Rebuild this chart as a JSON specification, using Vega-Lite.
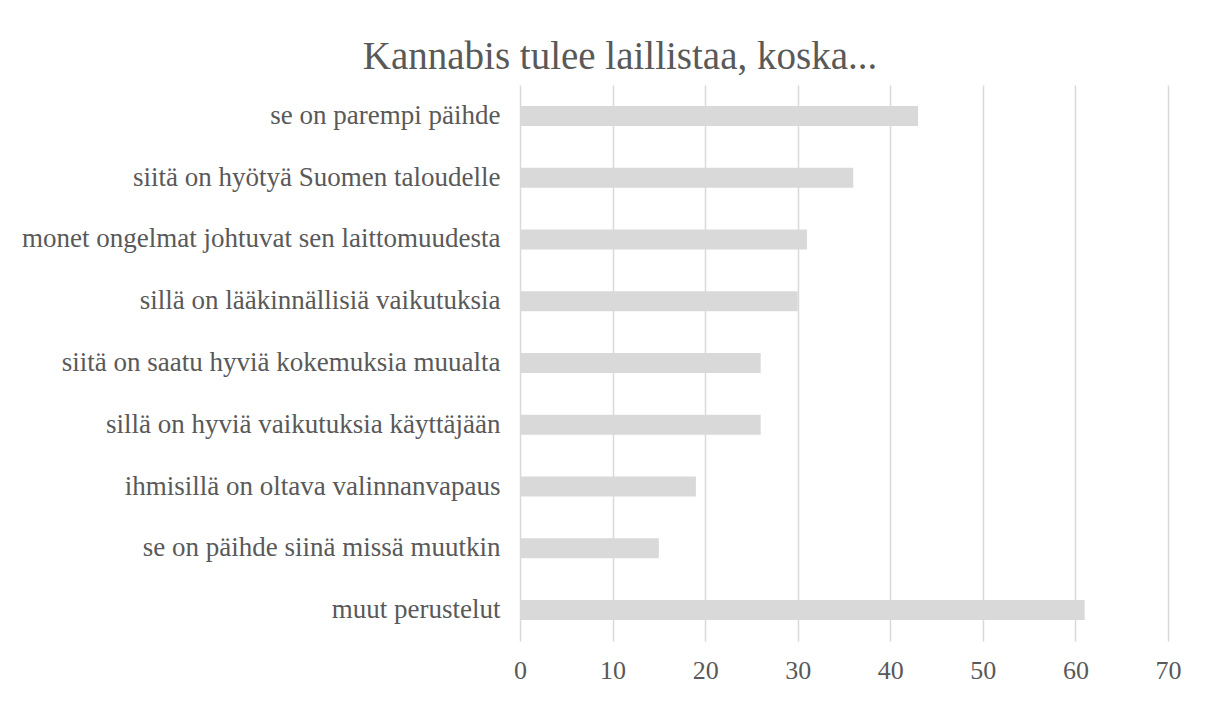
{
  "$schema": "https://vega.github.io/schema/vega-lite/v6.json",
  "width": 648,
  "height": 556,
  "autosize": {"type": "none"},
  "padding": {"left": 520, "top": 85, "right": 43, "bottom": 61},
  "background": "white",
  "title": {
    "text": "Kannabis tulee laillistaa, koska...",
    "font": "Liberation Serif",
    "fontSize": 39,
    "fontWeight": "normal",
    "color": "#595959",
    "anchor": "middle",
    "dx": -224,
    "offset": 8
  },
  "data": {
    "values": [
      {"peruste": "se on parempi päihde", "n": 43},
      {"peruste": "siitä on hyötyä Suomen taloudelle", "n": 36},
      {"peruste": "monet ongelmat johtuvat sen laittomuudesta", "n": 31},
      {"peruste": "sillä on lääkinnällisiä vaikutuksia", "n": 30},
      {"peruste": "siitä on saatu hyviä kokemuksia muualta", "n": 26},
      {"peruste": "sillä on hyviä vaikutuksia käyttäjään", "n": 26},
      {"peruste": "ihmisillä on oltava valinnanvapaus", "n": 19},
      {"peruste": "se on päihde siinä missä muutkin", "n": 15},
      {"peruste": "muut perustelut", "n": 61}
    ]
  },
  "mark": {"type": "bar", "color": "#d9d9d9"},
  "encoding": {
    "y": {
      "field": "peruste",
      "type": "nominal",
      "sort": null,
      "title": null,
      "scale": {"paddingInner": 0.676, "paddingOuter": 0.338},
      "axis": {
        "domain": false,
        "ticks": false,
        "labelFont": "Liberation Serif",
        "labelFontSize": 27,
        "labelColor": "#595959",
        "labelPadding": 20,
        "labelLimit": 600
      }
    },
    "x": {
      "field": "n",
      "type": "quantitative",
      "title": null,
      "scale": {"domain": [0, 70], "nice": false},
      "axis": {
        "values": [0, 10, 20, 30, 40, 50, 60, 70],
        "domain": false,
        "ticks": false,
        "grid": true,
        "gridColor": "#d9d9d9",
        "gridWidth": 1.5,
        "labelFont": "Liberation Serif",
        "labelFontSize": 26,
        "labelColor": "#595959",
        "labelPadding": 16,
        "labelFlush": false
      }
    }
  },
  "config": {"view": {"stroke": null}}
}
